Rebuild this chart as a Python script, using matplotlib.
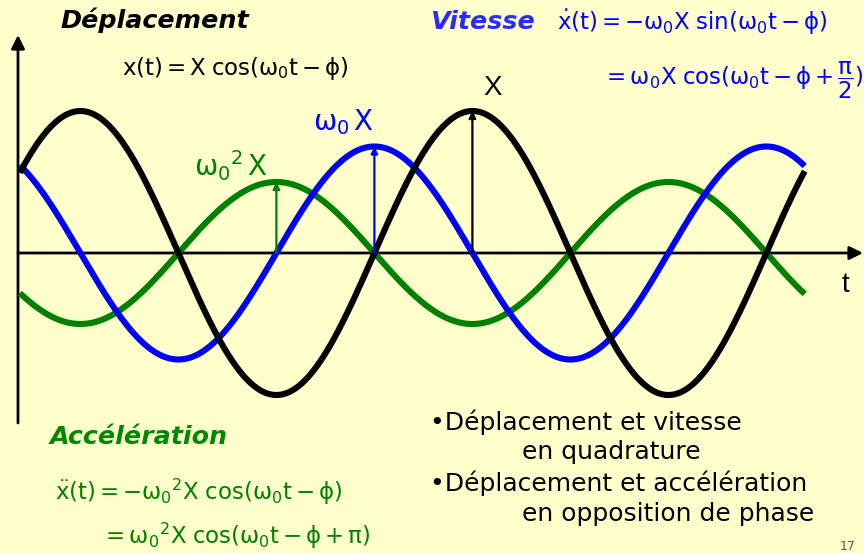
import numpy as np
import matplotlib
matplotlib.use("Agg")
import matplotlib.pyplot as plt

plt.rcParams['mathtext.fontset'] = 'custom'
plt.rcParams['mathtext.rm'] = 'Liberation Sans'
plt.rcParams['mathtext.it'] = 'Liberation Sans'
plt.rcParams['mathtext.bf'] = 'Liberation Sans:bold'
plt.rcParams['mathtext.default'] = 'regular'

# oscillator parameters (amplitudes relative to X)
phi = 1.0                 # phase, rad
amp_depl = 1.0            # X
amp_vit = 0.75            # w0 X
amp_acc = 0.50            # w0^2 X
t_start, t_end = 0.03, 12.61

BG = '#FFFFCC'
BLUE = '#0000FF'
GREEN = '#008000'

W, H = 864, 554
PX_RAD = 392 / (2 * np.pi)   # pixels per radian of w0 t
PX_UNIT = 142                # pixels per unit of X
X0, Y0 = 18, 253             # origin in pixels


def fpos(x, y):
    # pixel position -> figure fraction
    return x / W, 1 - y / H


fig = plt.figure(figsize=(W / 100, H / 100), dpi=100, facecolor=BG)
ax = fig.add_axes([0, 0, 1, 1])
ax.set_facecolor(BG)
ax.set_xlim(-X0 / PX_RAD, (W - X0) / PX_RAD)
ax.set_ylim(-(H - Y0) / PX_UNIT, Y0 / PX_UNIT)
ax.axis('off')

t = np.linspace(t_start, t_end, 800)
depl = amp_depl * np.cos(t - phi)
vit = amp_vit * np.cos(t - phi + np.pi / 2)
acc = amp_acc * np.cos(t - phi + np.pi)

lw = 4.4
ax.plot(t, acc, color=GREEN, lw=lw, solid_capstyle='butt', zorder=3)
ax.plot(t, vit, color=BLUE, lw=lw, solid_capstyle='butt', zorder=4)
ax.plot(t, depl, color='black', lw=lw, solid_capstyle='butt', zorder=5)

# axes with arrow heads
axprops = dict(arrowstyle='-|>', lw=2.0, color='black', mutation_scale=20,
               shrinkA=0, shrinkB=0)
ax.annotate('', xy=(0, (Y0 - 35) / PX_UNIT), xytext=(0, -(423 - Y0) / PX_UNIT),
            arrowprops=axprops, zorder=2)
ax.annotate('', xy=((863 - X0) / PX_RAD, 0), xytext=(0, 0),
            arrowprops=axprops, zorder=2)

# amplitude arrows at the maxima
peaks = [(phi + 2 * np.pi, amp_depl, 'black'),
         (phi + 1.5 * np.pi, amp_vit, BLUE),
         (phi + np.pi, amp_acc, GREEN)]
for tp, a, c in peaks:
    ax.annotate('', xy=(tp, a), xytext=(tp, 0),
                arrowprops=dict(arrowstyle='-|>', lw=1.6, color=c,
                                mutation_scale=10, shrinkA=0, shrinkB=0),
                zorder=6)

fs_lab = 20
fig.text(*fpos(493, 88), 'X', fontsize=fs_lab, color='black',
         family='Liberation Sans', ha='center', va='center')
fig.text(*fpos(343, 122), r'$\omega_0\,X$', fontsize=fs_lab, color=BLUE,
         ha='center', va='center')
fig.text(*fpos(231, 166), r'$\omega_0{}^2\,X$', fontsize=fs_lab, color=GREEN,
         ha='center', va='center')
fig.text(*fpos(845, 285), 't', fontsize=fs_lab, color='black',
         family='Liberation Sans', ha='center', va='center')

# section titles
fs_title = 18.3
fig.text(*fpos(60, 20), 'Déplacement', fontsize=fs_title, color='black',
         family='DejaVu Sans', weight='bold', style='italic', va='center')
fig.text(*fpos(430, 22), 'Vitesse', fontsize=fs_title, color='#2B2BFF',
         family='DejaVu Sans', weight='bold', style='italic', va='center')
fig.text(*fpos(50, 437), 'Accélération', fontsize=fs_title, color='#008800',
         family='DejaVu Sans', weight='bold', style='italic', va='center')

# equations
fs_eq = 16.5
fig.text(*fpos(122, 68), r'$x(t) = X\ cos(\omega_0 t - \phi)$',
         fontsize=fs_eq, color='black', va='center')
fig.text(*fpos(557, 22), r'$\dot{x}(t) = -\omega_0 X\ sin(\omega_0 t - \phi)$',
         fontsize=fs_eq, color=BLUE, va='center')
fig.text(*fpos(603, 80), r'$= \omega_0 X\ cos(\omega_0 t - \phi + \dfrac{\pi}{2})$',
         fontsize=fs_eq, color=BLUE, va='center')
fig.text(*fpos(55, 492), r'$\ddot{x}(t) = -\omega_0{}^2 X\ cos(\omega_0 t - \phi)$',
         fontsize=fs_eq, color=GREEN, va='center')
fig.text(*fpos(102, 536), r'$= \omega_0{}^2 X\ cos(\omega_0 t - \phi + \pi)$',
         fontsize=fs_eq, color=GREEN, va='center')

# remarks
fs_txt = 18
notes = [(430, 422, '•Déplacement et vitesse'),
         (522, 452, 'en quadrature'),
         (430, 483, '•Déplacement et accélération'),
         (522, 514, 'en opposition de phase')]
for x, y, s in notes:
    fig.text(*fpos(x, y), s, fontsize=fs_txt, color='black',
             family='DejaVu Sans', va='center')

fig.text(*fpos(848, 553), '17', fontsize=9, color='#555555',
         family='DejaVu Sans', ha='center', va='bottom')

fig.savefig('out.png', dpi=100, facecolor=BG)
